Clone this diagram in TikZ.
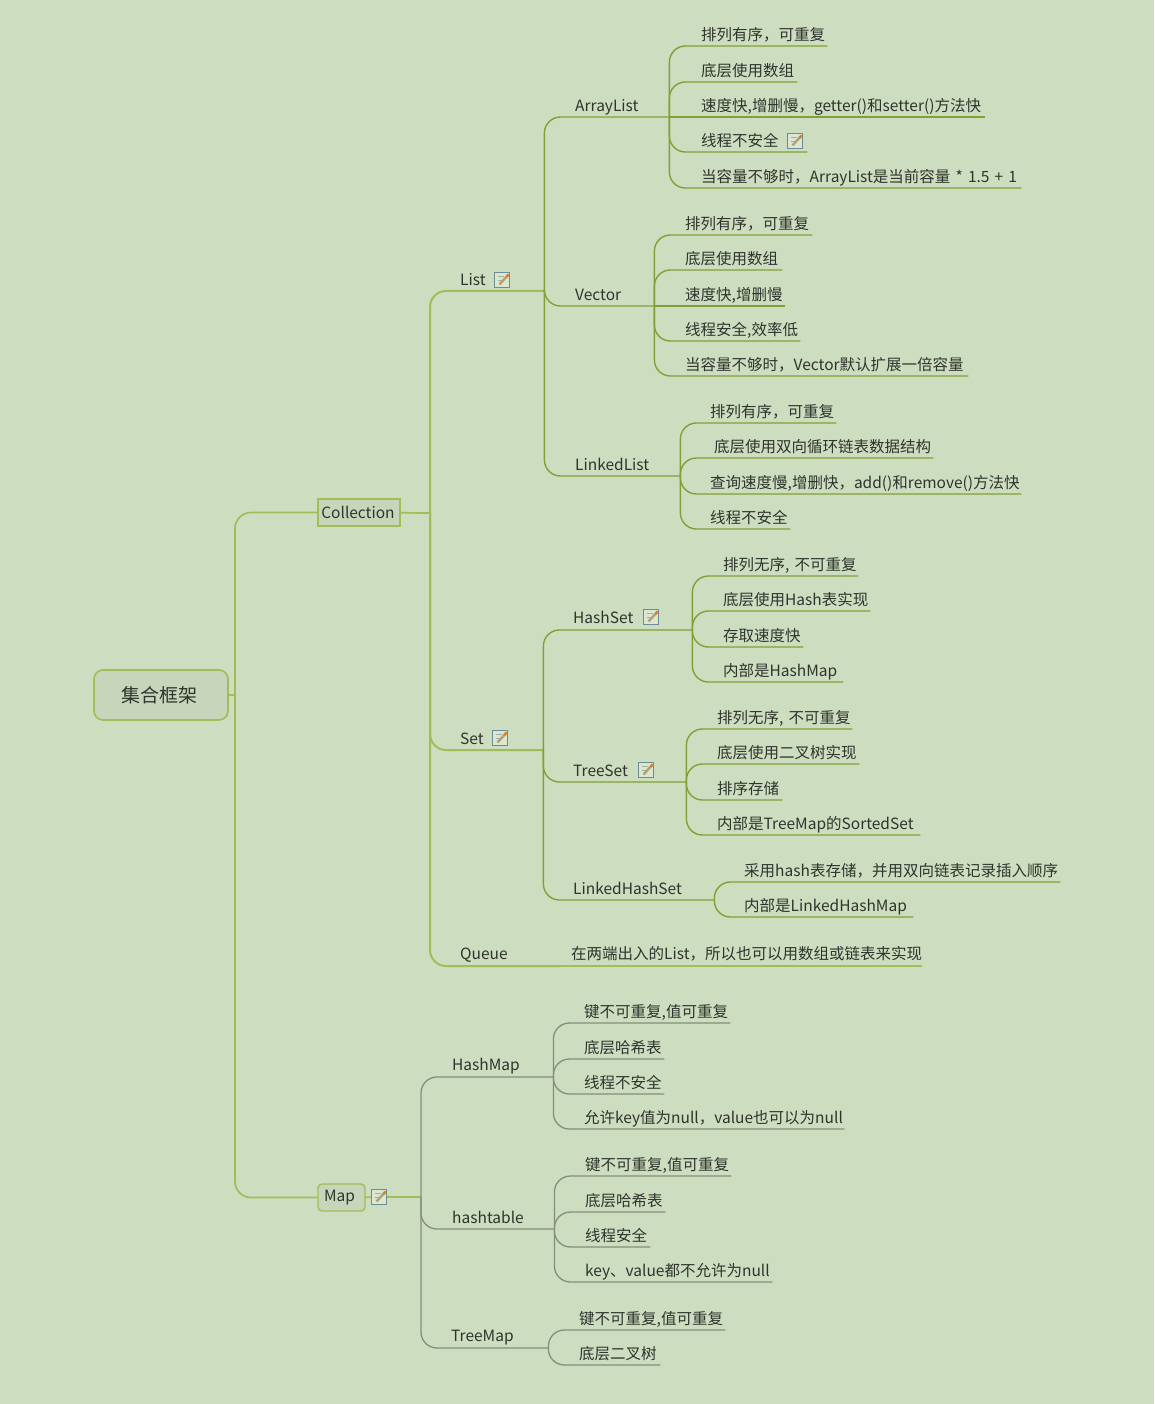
\documentclass[tikz,border=0pt]{standalone}
\usepackage{fontspec}
\setmainfont{Noto Sans CJK SC}
\usetikzlibrary{positioning}
\definecolor{paper}{HTML}{CDDDC0}
\definecolor{ink}{HTML}{2F342D}
\definecolor{bough}{HTML}{A2BC58}
\definecolor{twig}{HTML}{82A035}
\definecolor{ash}{HTML}{848F78}
\definecolor{slate}{HTML}{6E8C96}
\definecolor{pencil}{HTML}{B3A274}
\tikzset{
	item/.style={anchor=south west,inner sep=0pt,align=left,text=ink,font=\fontsize{15.5}{17}\selectfont,text height=13pt,text depth=5.5pt},
	raised/.style={text depth=6.5pt},
	topic/.style={draw=bough,line width=1.4pt,fill=black!3!paper,text=ink,font=\fontsize{15.5}{17}\selectfont,inner sep=0pt,minimum height=27pt},
	noteicon/.style={draw=slate,line width=.9pt,fill=white!30!paper,minimum size=15pt,inner sep=0pt,path picture={
		\draw[black!20!paper,line width=.7pt] ([shift={(3pt,-4pt)}]path picture bounding box.north west) -- ++(6pt,0pt);
		\draw[black!20!paper,line width=.7pt] ([shift={(3pt,-8pt)}]path picture bounding box.north west) -- ++(4pt,0pt);
		\draw[pencil,line width=2.4pt] ([shift={(5pt,3pt)}]path picture bounding box.south west) -- ([shift={(-1pt,-2pt)}]path picture bounding box.north east);
		\draw[orange!60!brown,line width=2.4pt] ([shift={(-3pt,-4.5pt)}]path picture bounding box.north east) -- ([shift={(-1pt,-2pt)}]path picture bounding box.north east);
	}},
	fork/.style={rounded corners=16pt,to path={|- (\tikztotarget)}},
}
\begin{document}
\begin{tikzpicture}[x=1pt,y=-1pt]
	\path[fill=paper,use as bounding box] (0,0) rectangle (1154,1404);

	% main topics
	\node[draw=bough,line width=1.6pt,rounded corners=9pt,fill=black!3!paper,text=ink,font=\fontsize{19}{21}\selectfont,minimum width=134pt,minimum height=50pt,inner sep=0pt] (root) at (161,695) {集合框架\hspace*{4pt}};
	\node[topic,minimum width=82pt] (collection) at (359,512.5) {Collection\hspace*{2pt}};
	\node[topic,minimum width=47pt,rounded corners=4pt] (map) at (341.5,1197.5) {Map\hspace*{4pt}};
	\node[noteicon] (map_note) at (379,1197) {};
	\coordinate (root_j) at (235,695);
	\coordinate (coll_j) at (430,513);
	\coordinate (map_j) at (421,1197);

	% second level
	\node[item,text width=84pt] (list) at (460,291) {List};
	\node[item,text width=83pt] (set) at (460,750) {Set};
	\node[item,raised,text width=100pt] (queue) at (460,966) {Queue};
	\node[noteicon] (list_note) at (502,280) {};
	\node[noteicon] (set_note) at (500,738) {};
	\node[item,raised,text width=101pt] (hashmap) at (452,1077) {HashMap};
	\node[item,text width=102pt] (hashtable) at (452,1229) {hashtable};
	\node[item,raised,text width=97pt] (treemap) at (451,1348) {TreeMap};

	% third level
	\node[item,text width=94pt] (arraylist) at (575,117) {ArrayList};
	\node[item,text width=79pt] (vector) at (575,306) {Vector};
	\node[item,text width=105pt] (linkedlist) at (575,476) {LinkedList};
	\node[item,raised,text width=119pt] (hashset) at (573,630) {HashSet};
	\node[item,text width=113pt] (treeset) at (573,782) {TreeSet};
	\node[item,text width=141pt] (linkedhashset) at (573,900) {LinkedHashSet};
	\node[noteicon] (hashset_note) at (651,617) {};
	\node[noteicon] (treeset_note) at (646,770) {};

	% ArrayList
	\node[item,text width=126pt] (al_1) at (701,46) {排列有序，可重复};
	\node[item,text width=96pt] (al_2) at (701,82) {底层使用数组};
	\node[item,text width=284pt] (al_3) at (701,117) {速度快,增删慢，getter()和setter()方法快};
	\node[item,text width=106pt] (al_4) at (701,152) {线程不安全};
	\node[item,text width=320pt] (al_5) at (701,188) {当容量不够时，ArrayList是当前容量~*~1.5~+~1};
	\node[noteicon] (al_note) at (795,141) {};

	% Vector
	\node[item,text width=127pt] (v_1) at (685,235) {排列有序，可重复};
	\node[item,text width=97pt] (v_2) at (685,270) {底层使用数组};
	\node[item,text width=100pt] (v_3) at (685,306) {速度快,增删慢};
	\node[item,text width=115pt] (v_4) at (685,341) {线程安全,效率低};
	\node[item,text width=283pt] (v_5) at (685,376) {当容量不够时，Vector默认扩展一倍容量};

	% LinkedList
	\node[item,text width=126pt] (ll_1) at (710,423) {排列有序，可重复};
	\node[item,text width=219pt] (ll_2) at (714,458) {底层使用双向循环链表数据结构};
	\node[item,text width=311pt] (ll_3) at (710,494) {查询速度慢,增删快，add()和remove()方法快};
	\node[item,text width=80pt] (ll_4) at (710,529) {线程不安全};

	% HashSet
	\node[item,text width=135pt] (hs_1) at (723,576) {排列无序,~不可重复};
	\node[item,text width=147pt] (hs_2) at (723,611) {底层使用Hash表实现};
	\node[item,text width=80pt] (hs_3) at (723,647) {存取速度快};
	\node[item,text width=120pt] (hs_4) at (723,682) {内部是HashMap};

	% TreeSet
	\node[item,text width=135pt] (ts_1) at (717,729) {排列无序,~不可重复};
	\node[item,text width=142pt] (ts_2) at (717,764) {底层使用二叉树实现};
	\node[item,text width=65pt] (ts_3) at (717,800) {排序存储};
	\node[item,text width=203pt] (ts_4) at (717,835) {内部是TreeMap的SortedSet};

	% LinkedHashSet
	\node[item,text width=316pt] (lh_1) at (744,882) {采用hash表存储，并用双向链表记录插入顺序};
	\node[item,text width=169pt] (lh_2) at (744,917) {内部是LinkedHashMap};

	% Queue
	\node[item,raised,text width=351pt] (q_1) at (571,966) {在两端出入的List，所以也可以用数组或链表来实现};

	% HashMap
	\node[item,text width=146pt] (hm_1) at (584,1023) {键不可重复,值可重复};
	\node[item,text width=80pt] (hm_2) at (584,1059) {底层哈希表};
	\node[item,text width=80pt] (hm_3) at (584,1094) {线程不安全};
	\node[item,text width=260pt] (hm_4) at (584,1129) {允许key值为null，value也可以为null};

	% hashtable
	\node[item,text width=146pt] (ht_1) at (585,1176) {键不可重复,值可重复};
	\node[item,text width=80pt] (ht_2) at (585,1212) {底层哈希表};
	\node[item,text width=65pt] (ht_3) at (585,1247) {线程安全};
	\node[item,text width=187pt] (ht_4) at (585,1282) {key、value都不允许为null};

	% TreeMap
	\node[item,text width=146pt] (tm_1) at (579,1330) {键不可重复,值可重复};
	\node[item,text width=81pt] (tm_2) at (579,1365) {底层二叉树};

	\path[draw=bough,line width=1.7pt]
	(root) edge (root_j)
	(root_j) edge[fork] (collection)
	(root_j) edge[fork] (map)
	(collection) edge (coll_j)
	(map) edge (map_note)
	(map_note) edge (map_j)
	(coll_j) edge[fork,line width=2pt] (list.south east)
	(coll_j) edge[fork,line width=2pt] (set.south east)
	(coll_j) edge[fork,line width=2pt] (queue.south east)
	(queue.south east) edge (q_1.south east);

	\path[draw=twig,line width=1.4pt]
	(list.south east) edge[fork] (arraylist.south east)
	(list.south east) edge[fork] (vector.south east)
	(list.south east) edge[fork] (linkedlist.south east)
	(arraylist.south east) edge[fork] (al_1.south east)
	(arraylist.south east) edge[fork] (al_2.south east)
	(arraylist.south east) edge (al_3.south east)
	(arraylist.south east) edge[fork] (al_4.south east)
	(arraylist.south east) edge[fork] (al_5.south east)
	(vector.south east) edge[fork] (v_1.south east)
	(vector.south east) edge[fork] (v_2.south east)
	(vector.south east) edge (v_3.south east)
	(vector.south east) edge[fork] (v_4.south east)
	(vector.south east) edge[fork] (v_5.south east)
	(linkedlist.south east) edge[fork] (ll_1.south east)
	(linkedlist.south east) edge[fork] (ll_2.south east)
	(linkedlist.south east) edge[fork] (ll_3.south east)
	(linkedlist.south east) edge[fork] (ll_4.south east)
	(set.south east) edge[fork] (hashset.south east)
	(set.south east) edge[fork] (treeset.south east)
	(set.south east) edge[fork] (linkedhashset.south east)
	(hashset.south east) edge[fork] (hs_1.south east)
	(hashset.south east) edge[fork] (hs_2.south east)
	(hashset.south east) edge[fork] (hs_3.south east)
	(hashset.south east) edge[fork] (hs_4.south east)
	(treeset.south east) edge[fork] (ts_1.south east)
	(treeset.south east) edge[fork] (ts_2.south east)
	(treeset.south east) edge[fork] (ts_3.south east)
	(treeset.south east) edge[fork] (ts_4.south east)
	(linkedhashset.south east) edge[fork] (lh_1.south east)
	(linkedhashset.south east) edge[fork] (lh_2.south east);

	\path[draw=ash,line width=1.3pt]
	(map_j) edge[fork] (hashmap.south east)
	(map_j) edge[fork] (hashtable.south east)
	(map_j) edge[fork] (treemap.south east)
	(hashmap.south east) edge[fork] (hm_1.south east)
	(hashmap.south east) edge[fork] (hm_2.south east)
	(hashmap.south east) edge[fork] (hm_3.south east)
	(hashmap.south east) edge[fork] (hm_4.south east)
	(hashtable.south east) edge[fork] (ht_1.south east)
	(hashtable.south east) edge[fork] (ht_2.south east)
	(hashtable.south east) edge[fork] (ht_3.south east)
	(hashtable.south east) edge[fork] (ht_4.south east)
	(treemap.south east) edge[fork] (tm_1.south east)
	(treemap.south east) edge[fork] (tm_2.south east);
\end{tikzpicture}
\end{document}
